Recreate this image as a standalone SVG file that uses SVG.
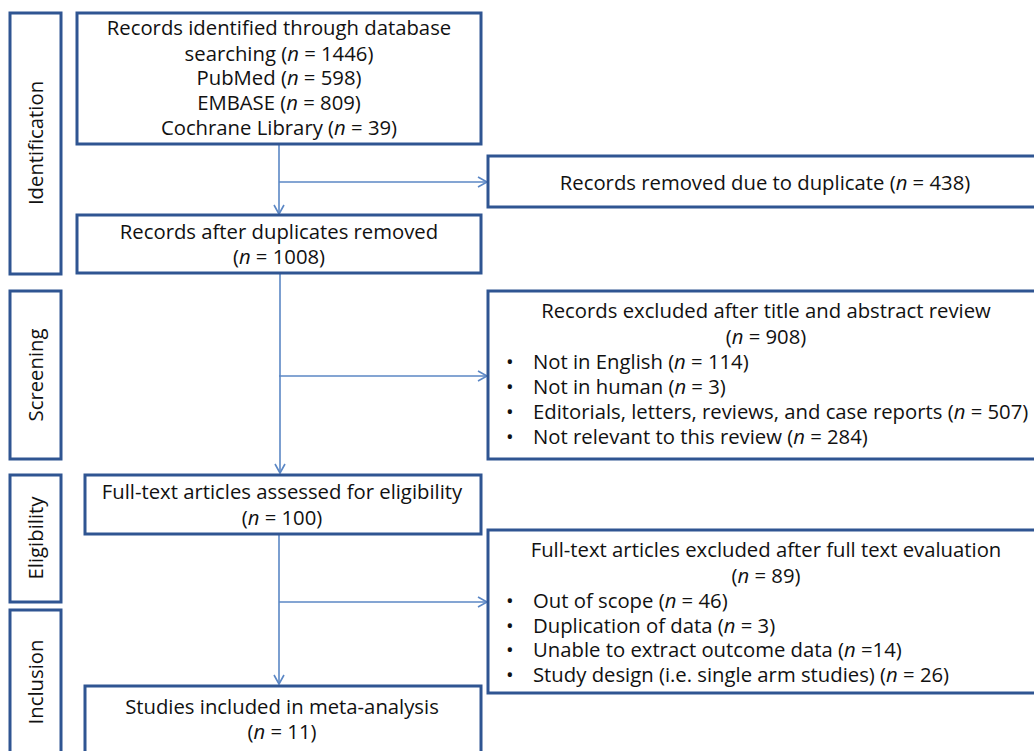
<svg xmlns="http://www.w3.org/2000/svg" width="1034" height="751" viewBox="0 0 1034 751">
<defs>
<style>
.box{fill:#fff;stroke:#2F5592;stroke-width:3}
.t{font-family:"Open Sans","Noto Sans",sans-serif;font-size:20.3px;fill:#111}
.c{text-anchor:middle}
.i{font-style:italic}
.conn{stroke:#5B87C5;stroke-width:1.6;fill:none}
</style>
<marker id="arr" markerWidth="12" markerHeight="12" refX="10" refY="6" orient="auto" markerUnits="userSpaceOnUse">
<path d="M1,1 L10,6 L1,11" fill="none" stroke="#5B87C5" stroke-width="1.6"/>
</marker>
</defs>
<rect width="1034" height="751" fill="#fff"/>

<g id="phase-identification">
<rect class="box" x="10" y="13" width="51" height="261"/>
<text class="t c" transform="translate(43,143) rotate(-90)">Identification</text>
</g>
<g id="phase-screening">
<rect class="box" x="10" y="291" width="51" height="168"/>
<text class="t c" transform="translate(43,375) rotate(-90)">Screening</text>
</g>
<g id="phase-eligibility">
<rect class="box" x="10" y="475" width="51" height="127"/>
<text class="t c" transform="translate(43,538) rotate(-90)">Eligibility</text>
</g>
<g id="phase-inclusion">
<rect class="box" x="10" y="610" width="51" height="160"/>
<text class="t c" transform="translate(43,682) rotate(-90)">Inclusion</text>
</g>

<g id="connectors">
<line class="conn" x1="279" y1="144" x2="279" y2="214" marker-end="url(#arr)"/>
<line class="conn" x1="279" y1="182" x2="487" y2="182" marker-end="url(#arr)"/>
<line class="conn" x1="280" y1="274" x2="280" y2="473" marker-end="url(#arr)"/>
<line class="conn" x1="279" y1="376" x2="487" y2="376" marker-end="url(#arr)"/>
<line class="conn" x1="279" y1="534" x2="279" y2="684" marker-end="url(#arr)"/>
<line class="conn" x1="279" y1="602" x2="487" y2="602" marker-end="url(#arr)"/>
</g>

<g id="records-identified">
<rect class="box" x="77" y="13" width="404" height="131"/>
<text class="t c" x="279" y="35">Records identified through database</text>
<text class="t c" x="279" y="61">searching (<tspan class="i">n</tspan> = 1446)</text>
<text class="t c" x="279" y="85">PubMed (<tspan class="i">n</tspan> = 598)</text>
<text class="t c" x="279" y="110">EMBASE (<tspan class="i">n</tspan> = 809)</text>
<text class="t c" x="279" y="135">Cochrane Library (<tspan class="i">n</tspan> = 39)</text>
</g>

<g id="records-removed">
<rect class="box" x="488" y="156" width="560" height="51"/>
<text class="t c" x="765" y="190">Records removed due to duplicate (<tspan class="i">n</tspan> = 438)</text>
</g>

<g id="records-after-duplicates">
<rect class="box" x="77" y="215" width="404" height="58"/>
<text class="t c" x="279" y="239">Records after duplicates removed</text>
<text class="t c" x="279" y="264">(<tspan class="i">n</tspan> = 1008)</text>
</g>

<g id="records-excluded">
<rect class="box" x="488" y="291" width="560" height="168"/>
<text class="t c" x="766" y="318">Records excluded after title and abstract review</text>
<text class="t c" x="766" y="344">(<tspan class="i">n</tspan> = 908)</text>
<text class="t" x="506" y="369">•</text><text class="t" x="533" y="369">Not in English (<tspan class="i">n</tspan> = 114)</text>
<text class="t" x="506" y="394">•</text><text class="t" x="533" y="394">Not in human (<tspan class="i">n</tspan> = 3)</text>
<text class="t" x="506" y="419">•</text><text class="t" x="533" y="419">Editorials, letters, reviews, and case reports (<tspan class="i">n</tspan> = 507)</text>
<text class="t" x="506" y="444">•</text><text class="t" x="533" y="444">Not relevant to this review (<tspan class="i">n</tspan> = 284)</text>
</g>

<g id="fulltext-assessed">
<rect class="box" x="85" y="475" width="396" height="59"/>
<text class="t c" x="282" y="499">Full-text articles assessed for eligibility</text>
<text class="t c" x="282" y="525">(<tspan class="i">n</tspan> = 100)</text>
</g>

<g id="fulltext-excluded">
<rect class="box" x="488" y="530" width="560" height="163"/>
<text class="t c" x="766" y="557">Full-text articles excluded after full text evaluation</text>
<text class="t c" x="766" y="583">(<tspan class="i">n</tspan> = 89)</text>
<text class="t" x="506" y="608">•</text><text class="t" x="533" y="608">Out of scope (<tspan class="i">n</tspan> = 46)</text>
<text class="t" x="506" y="633">•</text><text class="t" x="533" y="633">Duplication of data (<tspan class="i">n</tspan> = 3)</text>
<text class="t" x="506" y="657">•</text><text class="t" x="533" y="657">Unable to extract outcome data (<tspan class="i">n</tspan> =14)</text>
<text class="t" x="506" y="682">•</text><text class="t" x="533" y="682">Study design (i.e. single arm studies) (<tspan class="i">n</tspan> = 26)</text>
</g>

<g id="studies-included">
<rect class="box" x="85" y="686" width="396" height="80"/>
<text class="t c" x="282" y="714">Studies included in meta-analysis</text>
<text class="t c" x="282" y="739">(<tspan class="i">n</tspan> = 11)</text>
</g>
</svg>
